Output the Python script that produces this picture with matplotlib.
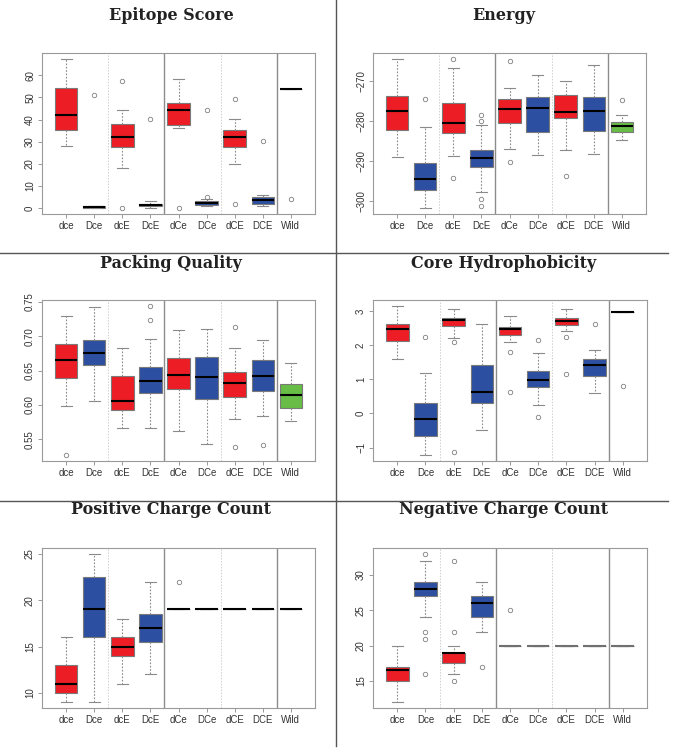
import matplotlib
matplotlib.use('Agg')
import matplotlib.pyplot as plt
from matplotlib.lines import Line2D

categories = ['dce', 'Dce', 'dcE', 'DcE', 'dCe', 'DCe', 'dCE', 'DCE', 'Wild']

# Epitope Score
epi_lo = [28, 0, 18, 0, 36.3, 1, 20, 1, 54]
epi_q1 = [35.2, 0, 27.5, 1, 37.7, 1.5, 27.5, 2, 54]
epi_med = [42.2, 0.5, 32.1, 1.5, 44.3, 2.3, 32.1, 3.6, 54]
epi_q3 = [54.3, 1, 38.1, 2, 47.5, 3, 35.3, 5, 54]
epi_hi = [67.4, 1, 44.3, 3, 58.3, 4, 40.3, 6, 54]
epi_fl = [[], [51.3], [57.3, 0], [40.1], [0], [5.1, 44.3], [49.1, 2], [30.1], [4]]
epi_ticks = [0, 10, 20, 30, 40, 50, 60]

# Energy
en_lo = [-289.0, -301.7, -288.8, -297.7, -286.9, -288.5, -287.2, -288.3, -284.7]
en_q1 = [-282.2, -297.1, -282.9, -291.4, -280.5, -282.7, -279.3, -282.4, -282.7]
en_med = [-277.6, -294.4, -280.4, -289.2, -276.9, -276.8, -277.8, -277.5, -281.3]
en_q3 = [-273.8, -290.5, -275.6, -287.1, -274.6, -273.9, -273.6, -274.0, -280.3]
en_hi = [-264.5, -281.4, -266.7, -280.9, -271.7, -268.6, -270.0, -265.9, -278.5]
en_fl = [[], [-274.4], [-264.5, -294.1], [-278.4, -280.1, -299.4, -301.3],
         [-264.9, -290.1], [], [-293.8], [], [-274.8]]
en_ticks = [-300, -290, -280, -270]

# Packing Quality
pq_lo = [0.598, 0.605, 0.566, 0.566, 0.562, 0.543, 0.580, 0.584, 0.576]
pq_q1 = [0.639, 0.658, 0.592, 0.617, 0.623, 0.608, 0.612, 0.620, 0.595]
pq_med = [0.665, 0.676, 0.605, 0.635, 0.644, 0.641, 0.632, 0.642, 0.614]
pq_q3 = [0.689, 0.695, 0.642, 0.655, 0.668, 0.670, 0.648, 0.665, 0.630]
pq_hi = [0.730, 0.743, 0.683, 0.696, 0.709, 0.710, 0.683, 0.695, 0.661]
pq_fl = [[0.527], [], [], [0.744, 0.724], [], [], [0.714, 0.539], [0.541], []]
pq_ticks = [0.55, 0.60, 0.65, 0.70, 0.75]

# Core Hydrophobicity
ch_lo = [1.60, -1.22, 2.22, -0.48, 2.10, 0.25, 2.42, 0.60, 2.98]
ch_q1 = [2.12, -0.65, 2.57, 0.31, 2.31, 0.78, 2.60, 1.09, 2.98]
ch_med = [2.48, -0.16, 2.75, 0.63, 2.48, 0.99, 2.72, 1.42, 2.98]
ch_q3 = [2.63, 0.31, 2.80, 1.42, 2.53, 1.24, 2.79, 1.60, 2.98]
ch_hi = [3.15, 1.19, 3.06, 2.63, 2.85, 1.78, 3.07, 1.87, 2.98]
ch_fl = [[], [2.25], [2.09, -1.12], [], [1.79, 0.64], [2.15, -0.10], [2.25, 1.15], [2.61], [0.80]]
ch_ticks = [-1, 0, 1, 2, 3]

# Positive Charge Count
pc_lo = [9, 9, 11, 12, 19, 19, 19, 19, 19]
pc_q1 = [10, 16, 14, 15.5, 19, 19, 19, 19, 19]
pc_med = [11, 19, 15, 17, 19, 19, 19, 19, 19]
pc_q3 = [13, 22.5, 16, 18.5, 19, 19, 19, 19, 19]
pc_hi = [16, 25, 18, 22, 19, 19, 19, 19, 19]
pc_fl = [[], [], [], [], [22], [], [], [], []]
pc_ticks = [10, 15, 20, 25]

# Negative Charge Count
nc_lo = [12, 24, 16, 22, 20, 20, 20, 20, 20]
nc_q1 = [15, 27, 17.5, 24, 20, 20, 20, 20, 20]
nc_med = [16.5, 28, 19, 26, 20, 20, 20, 20, 20]
nc_q3 = [17, 29, 19, 27, 20, 20, 20, 20, 20]
nc_hi = [20, 32, 20, 29, 20, 20, 20, 20, 20]
nc_fl = [[], [33, 22, 21, 16], [32, 22, 15], [17], [25], [], [], [], []]
nc_ticks = [15, 20, 25, 30]

titles = ['Epitope Score', 'Energy', 'Packing Quality', 'Core Hydrophobicity',
          'Positive Charge Count', 'Negative Charge Count']

RED = '#EC1D25'
BLUE = '#2D4FA2'
GREEN = '#67BD45'
box_colors = [RED, BLUE, RED, BLUE, RED, BLUE, RED, BLUE, GREEN]

W, H = 675, 754
fig = plt.figure(figsize=(W / 100, H / 100), dpi=100)

panels = [
    (epi_lo, epi_q1, epi_med, epi_q3, epi_hi, epi_fl, epi_ticks),
    (en_lo, en_q1, en_med, en_q3, en_hi, en_fl, en_ticks),
    (pq_lo, pq_q1, pq_med, pq_q3, pq_hi, pq_fl, pq_ticks),
    (ch_lo, ch_q1, ch_med, ch_q3, ch_hi, ch_fl, ch_ticks),
    (pc_lo, pc_q1, pc_med, pc_q3, pc_hi, pc_fl, pc_ticks),
    (nc_lo, nc_q1, nc_med, nc_q3, nc_hi, nc_fl, nc_ticks),
]

# pixel boxes: (x0, x1, y0, y1) ; title centers
ax_px = [(42, 315, 53, 214), (373, 646, 53, 214),
         (42, 315, 300, 461), (373, 647, 300, 461),
         (42, 315, 548, 708), (373, 647, 548, 708)]
title_px = [(171, 16), (504, 16), (171, 263), (504, 263), (171, 510), (504, 510)]

for i, (lo, q1, med, q3, hi, fl, ticks) in enumerate(panels):
    x0, x1, y0, y1 = ax_px[i]
    ax = fig.add_axes([x0 / W, 1 - y1 / H, (x1 - x0) / W, (y1 - y0) / H])
    stats = []
    for j, c in enumerate(categories):
        stats.append(dict(label=c, whislo=lo[j], q1=q1[j], med=med[j],
                          q3=q3[j], whishi=hi[j], fliers=fl[j]))
    # group separators
    for xs in (2.5, 6.5):
        ax.axvline(xs, color='#cfcfcf', lw=0.7, ls=(0, (1.5, 1.5)), zorder=0)
    for xs in (4.5, 8.5):
        ax.axvline(xs, color='#8c8c8c', lw=1.0, zorder=0)
    bp = ax.bxp(stats, positions=range(1, len(categories) + 1), widths=0.8,
                capwidths=0.4, patch_artist=True, showfliers=True,
                boxprops=dict(edgecolor='#7a7a7a', linewidth=0.8),
                whiskerprops=dict(color='#8a8a8a', linestyle=(0, (1.5, 1.5)), linewidth=0.8),
                capprops=dict(color='#8a8a8a', linewidth=0.8),
                medianprops=dict(color='black', linewidth=1.5),
                flierprops=dict(marker='o', markerfacecolor='none',
                                markeredgecolor='#808080', markersize=3.2,
                                markeredgewidth=0.6))
    for patch, col in zip(bp['boxes'], box_colors):
        patch.set_facecolor(col)
    if i == 5:
        for j in range(4, 9):
            bp['medians'][j].set_color('#707070')
    ax.set_xlim(0.5 - 0.36, len(categories) + 0.5 + 0.36)
    ax.margins(y=0.04)
    ax.set_yticks(ticks)
    ax.set_yticklabels([str(t).replace('-', '\u2212') if not isinstance(t, float) else f'{t:.2f}'
                        for t in ticks])
    for s in ax.spines.values():
        s.set_color('#9a9a9a')
        s.set_linewidth(0.8)
    ax.tick_params(length=3, color='#9a9a9a', width=0.7, labelsize=7,
                   labelcolor='#333333', pad=2)
    for lab in ax.get_xticklabels():
        lab.set_fontfamily('Liberation Sans')
    for lab in ax.get_yticklabels():
        lab.set_rotation(90)
        lab.set_va('center')
        lab.set_fontfamily('Liberation Sans')
    tx, ty = title_px[i]
    fig.text(tx / W, 1 - ty / H, titles[i], ha='center', va='center',
             fontsize=11.5, fontweight='bold', family='DejaVu Serif', color='#222222')

# panel separators
fig.add_artist(Line2D([336 / W, 336 / W], [1, 1 - 746 / H], transform=fig.transFigure,
                      color='#555555', lw=1))
for yy in (252.5, 501):
    fig.add_artist(Line2D([0, 668 / W], [1 - yy / H, 1 - yy / H], transform=fig.transFigure,
                          color='#555555', lw=1))

fig.savefig('out.png', dpi=100)
